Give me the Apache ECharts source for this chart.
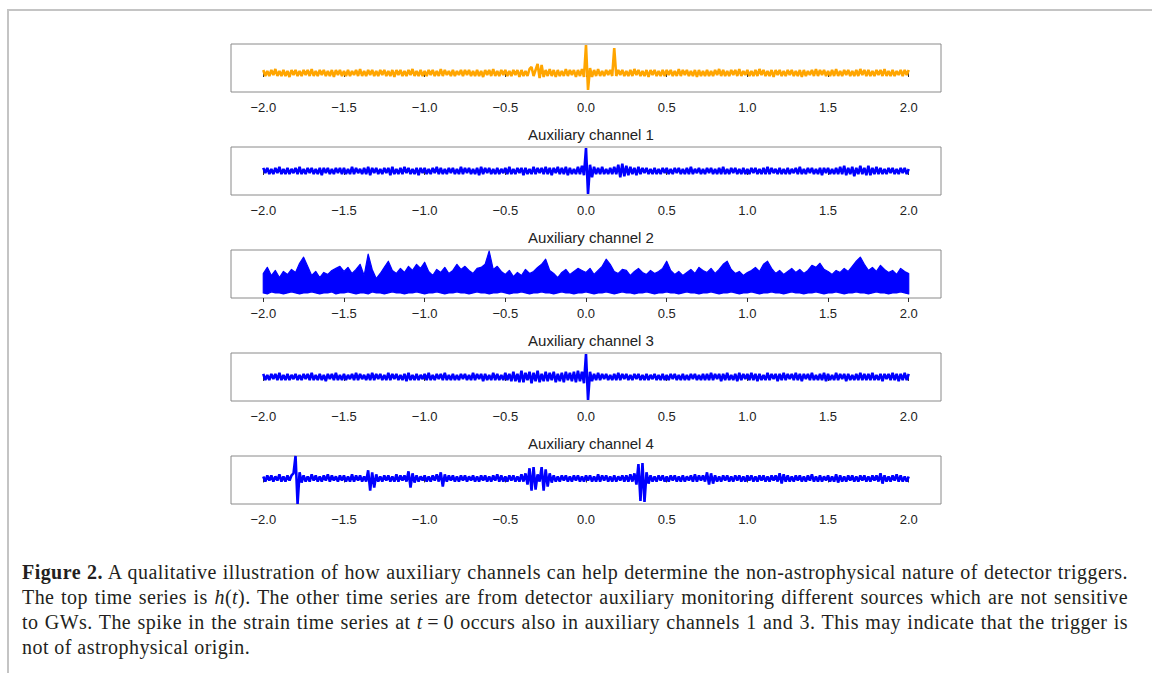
<!DOCTYPE html>
<html>
<head>
<meta charset="utf-8">
<title>Auxiliary channels</title>
<script src="https://cdn.jsdelivr.net/npm/echarts@6.0.0/dist/echarts.min.js"></script>
<style>
  html, body { margin: 0; padding: 0; background: #fff; }
  #page { position: relative; width: 1152px; height: 673px; overflow: hidden; }
  #frame { position: absolute; left: 7px; top: 9px; right: -4px; bottom: -4px;
           border-top: 2px solid #c4c4c4; border-left: 2px solid #c4c4c4; }
  #container { position: absolute; left: 0; top: 0; width: 1152px; height: 560px; }
  #caption { position: absolute; left: 22px; top: 560px; width: 1106px;
             font-family: 'Liberation Serif', serif; font-size: 20px; letter-spacing: 0.45px;
             line-height: 25px; color: #231f20; }
  #caption .j { text-align: justify; text-align-last: justify; white-space: nowrap; }
</style>
</head>
<body>
<div id="page">
  <div id="frame"></div>
  <div id="container"></div>
  <div id="caption">
    <div class="j"><b>Figure 2.</b> A qualitative illustration of how auxiliary channels can help determine the non-astrophysical nature of detector triggers.</div>
    <div class="j">The top time series is <i>h</i>(<i>t</i>). The other time series are from detector auxiliary monitoring different sources which are not sensitive</div>
    <div class="j">to GWs. The spike in the strain time series at <i>t</i>&thinsp;=&thinsp;0 occurs also in auxiliary channels 1 and 3. This may indicate that the trigger is</div>
    <div>not of astrophysical origin.</div>
  </div>
</div>
<script>
// fine time axis for the noisy channels: -2.0 .. 2.0 s every 0.0125 s
var fineStart = -2.0, fineStep = 0.0125, fineCount = 321;
// coarse time axis for the band of channel 2: every 0.025 s
var coarseStart = -2.0, coarseStep = 0.025, coarseCount = 161;
var tickValues = [-2.0, -1.5, -1.0, -0.5, 0.0, 0.5, 1.0, 1.5, 2.0];
var panelTitles = ['', 'Auxiliary channel 1', 'Auxiliary channel 2', 'Auxiliary channel 3', 'Auxiliary channel 4'];

// h(t) strain (orange)
var strain = [
  3,-3,2,-3,3,-2,4,-3,2,-3,3,-3,2,-4,3,-2,3,-3,2,-3,
  3,-2,3,-3,4,-3,2,-3,3,-2,3,-3,2,-3,3,-4,3,-2,3,-3,
  2,-3,3,-3,2,-2,3,-3,4,-3,2,-3,3,-2,3,-3,2,-3,3,-2,
  3,-3,2,-3,3,-4,3,-2,3,-3,2,-3,3,-2,4,-3,2,-3,3,-3,
  2,-3,3,-2,3,-3,2,-3,4,-3,3,-2,2,-3,3,-3,2,-2,3,-3,
  3,-2,3,-3,2,-3,3,-3,2,-4,3,-2,3,-3,4,-3,2,-3,3,-2,
  3,-3,2,-3,3,-2,3,-4,3,-3,2,-3,4,6,-3,3,9,-5,8,-4,
  3,-3,4,-3,3,-4,3,-3,2,-3,4,-3,3,-2,3,-4,3,-3,4,-4,
  28,-17,5,-4,3,-3,4,-3,2,-3,3,-2,3,-3,25,-3,3,-2,3,-3,
  2,-3,3,-3,4,-2,3,-3,2,-3,3,-4,3,-2,3,-3,2,-3,3,-3,
  3,-2,3,-3,2,-3,4,-3,3,-2,3,-3,2,-3,3,-4,3,-3,2,-3,
  3,-3,2,-3,3,-2,4,-3,3,-3,2,-3,3,-2,3,-3,4,-3,2,-2,
  3,-3,2,-3,3,-3,4,-2,3,-3,2,-3,3,-4,3,-2,3,-3,2,-3,
  3,-2,3,-3,2,-3,3,-4,3,-3,2,-2,3,-3,4,-3,3,-2,3,-3,
  2,-3,3,-3,4,-3,2,-3,3,-2,3,-3,2,-3,3,-3,4,-2,3,-3,
  3,-3,2,-3,3,-2,3,-3,4,-3,2,-3,3,-3,2,-2,3,-3,3,-2,
  3
];
// auxiliary channel 1
var aux1 = [
  3,-2,3,-3,2,-3,3,-2,4,-3,2,-3,3,-3,2,-2,3,-3,4,-3,
  2,-3,3,-2,3,-3,2,-3,3,-4,3,-2,3,-3,2,-3,3,-2,3,-3,
  3,-3,2,-3,4,-3,3,-2,2,-3,3,-3,4,-4,3,-2,3,-3,2,-3,
  3,-2,3,-4,4,-3,2,-3,3,-3,4,-2,3,-3,2,-3,3,-4,3,-2,
  3,-3,2,-3,3,-2,4,-3,3,-3,2,-3,3,-2,3,-3,2,-3,4,-3,
  3,-2,3,-3,2,-3,3,-4,4,-3,3,-2,3,-3,2,-3,3,-3,2,-2,
  3,-3,4,-3,2,-3,3,-2,3,-4,3,-3,2,-3,4,-3,3,-2,3,-3,
  4,-3,3,-4,3,-2,4,-3,3,-3,4,-4,3,-3,2,-3,4,-3,5,-4,
  22,-22,6,-6,4,-3,3,-3,4,-3,2,-3,3,-3,4,-3,6,-6,7,-5,
  5,-4,4,-3,3,-4,4,-3,3,-2,3,-3,2,-3,3,-3,2,-3,3,-2,
  3,-3,2,-3,3,-2,3,-3,2,-3,3,-3,4,-3,2,-2,3,-3,2,-3,
  3,-2,3,-3,2,-3,3,-3,4,-3,2,-3,3,-2,3,-3,2,-3,3,-3,
  2,-3,3,-2,3,-3,2,-3,3,-3,4,-3,3,-2,2,-3,3,-3,2,-3,
  3,-3,2,-2,3,-3,4,-3,2,-3,3,-2,3,-3,2,-3,3,-4,3,-2,
  3,-3,2,-3,3,-3,4,-3,5,-4,3,-3,4,-5,3,-3,5,-3,3,-4,
  5,-4,3,-3,4,-3,3,-3,2,-3,3,-2,3,-3,2,-3,3,-2,3,-3,
  2
];
// auxiliary channel 2: lower and upper edge of the dense band
var aux2Low = [
  5,4,6,5,5,4,5,6,5,4,5,5,6,5,4,5,5,6,4,5,
  5,6,5,4,5,5,4,6,5,5,4,5,6,5,5,4,5,5,6,5,
  4,5,5,6,5,4,5,5,6,5,5,4,5,6,5,5,4,5,5,6,
  5,4,5,5,6,5,4,5,5,6,5,5,4,5,6,5,5,4,5,5,
  6,5,4,5,5,6,5,4,5,6,5,5,4,5,5,6,5,4,5,5,
  6,5,5,4,5,6,5,5,4,5,5,6,5,4,5,5,6,5,4,5,
  5,6,5,4,5,5,6,5,5,4,5,6,5,5,4,5,5,6,5,4,
  5,5,6,5,4,5,5,6,5,5,4,5,6,5,5,4,5,5,6,5,4
];
var aux2High = [
  24,30,22,27,20,26,23,28,25,34,40,31,22,26,20,25,23,27,29,31,
  26,30,24,28,33,22,43,28,19,24,30,36,27,24,29,25,31,27,33,29,
  35,26,22,28,25,30,24,27,33,28,31,27,24,29,30,33,46,28,31,26,
  23,27,21,25,22,28,24,26,30,33,38,27,24,20,25,28,23,26,29,27,
  25,29,23,27,31,38,33,26,24,28,27,22,26,29,25,23,27,24,26,29,
  36,27,23,26,22,25,28,24,30,27,25,29,24,28,33,36,28,24,26,22,
  25,27,30,26,33,36,29,24,27,23,26,29,25,28,24,27,32,30,34,28,
  26,23,27,25,29,26,31,36,40,33,27,30,26,32,28,25,27,23,29,26,24
];
// auxiliary channel 3
var aux3 = [
  3,-3,2,-3,3,-2,3,-3,4,-3,2,-3,3,-3,2,-2,3,-3,2,-3,
  3,-2,3,-3,4,-3,2,-3,3,-3,2,-4,3,-2,3,-3,4,-3,2,-3,
  3,-3,2,-2,3,-3,4,-3,3,-2,2,-3,3,-3,4,-3,3,-2,3,-3,
  2,-3,4,-3,3,-2,3,-3,2,-3,3,-4,4,-3,2,-3,3,-3,2,-2,
  3,-3,4,-3,2,-3,3,-2,3,-3,4,-3,2,-3,3,-3,2,-3,3,-2,
  3,-3,2,-3,4,-3,3,-2,3,-4,3,-3,2,-3,4,-3,3,-3,2,-3,
  4,-3,3,-4,5,-4,3,-5,6,-5,4,-3,5,-6,4,-4,6,-5,3,-4,
  5,-4,4,-3,5,-5,3,-4,4,-5,5,-3,4,-4,5,-5,6,-4,5,-6,
  22,-22,5,-4,3,-3,4,-3,3,-2,3,-3,2,-3,3,-3,4,-3,3,-2,
  3,-3,2,-3,3,-2,3,-3,2,-3,3,-3,2,-2,3,-3,2,-3,3,-3,
  2,-3,3,-2,3,-3,2,-3,3,-3,2,-3,3,-2,3,-3,2,-3,3,-3,
  3,-3,4,-3,3,-2,3,-4,3,-3,4,-3,2,-3,3,-4,4,-3,3,-2,
  3,-3,4,-3,3,-4,3,-3,2,-3,4,-3,3,-2,3,-4,3,-3,4,-3,
  3,-2,3,-3,4,-3,3,-4,3,-2,3,-3,4,-3,2,-3,3,-3,4,-4,
  3,-3,2,-3,4,-3,3,-2,3,-4,3,-3,2,-3,3,-3,4,-3,3,-3,
  3,-3,4,-3,2,-3,3,-4,3,-2,3,-3,4,-3,3,-4,3,-3,4,-3,
  3
];
// auxiliary channel 4
var aux4 = [
  2,-3,3,-2,3,-3,2,-2,4,-3,2,-3,3,-2,3,5,22,-25,6,-4,
  3,-3,2,-3,4,-2,3,-3,2,-3,3,-2,4,-3,3,-2,2,-3,3,-2,
  3,-3,2,-3,4,-3,3,-2,3,-3,2,-3,8,-12,6,-9,4,-3,2,-3,
  3,-2,3,-3,2,-3,4,-3,3,-2,3,-3,7,-9,5,-4,3,-3,2,-2,
  3,-3,2,-3,3,-2,4,-3,6,-8,4,-3,3,-2,3,-3,2,-3,3,-2,
  3,-3,2,-2,3,-3,2,-3,3,-2,3,-3,2,-3,3,-2,4,-3,3,-3,
  2,-3,3,-2,3,-3,2,-3,4,-3,5,-6,10,-12,11,-11,4,-3,11,-12,
  9,-8,5,-4,3,-3,2,-3,3,-2,3,-3,2,-3,3,-2,3,-3,2,-3,
  3,-2,3,-3,2,-3,4,-3,3,-2,3,-3,2,-3,3,-3,2,-2,3,-3,
  3,-3,4,-3,5,-6,14,-22,15,-23,6,-5,3,-3,2,-3,3,-2,3,-3,
  2,-3,3,-2,3,-3,2,-3,3,-3,2,-2,3,-3,4,-3,3,-2,3,-3,
  6,-6,5,-5,3,-3,2,-3,3,-2,3,-3,2,-3,3,-2,3,-3,2,-3,
  3,-2,3,-3,2,-3,3,-2,3,-3,2,-3,3,-2,3,-3,5,-5,4,-3,
  3,-3,2,-3,3,-2,3,-3,2,-3,3,-2,4,-3,2,-3,3,-3,2,-2,
  3,-3,2,-3,4,-4,3,-3,2,-3,3,-2,3,-3,2,-3,3,-2,3,-3,
  2,-3,3,-2,3,-3,5,-5,3,-3,2,-3,3,-2,4,-3,3,-3,2,-3,
  2
];

var yLimits = [[-19, 29], [-23, 23], [0, 47], [-23, 23], [-25, 22]];
var panelTops = [44, 147, 250, 353, 456];

[strain, aux1, aux3, aux4].forEach(function (a, k) {
  if (a.length !== fineCount) throw new Error('fine array ' + k + ' has ' + a.length + ' values');
});
[aux2Low, aux2High].forEach(function (a, k) {
  if (a.length !== coarseCount) throw new Error('coarse array ' + k + ' has ' + a.length + ' values');
});

function makeTimes(start, step, n) {
  var out = [];
  for (var i = 0; i < n; i++) out.push(+(start + i * step).toFixed(4));
  return out;
}
var fineTimes = makeTimes(fineStart, fineStep, fineCount);
var coarseTimes = makeTimes(coarseStart, coarseStep, coarseCount);
function pairs(vals) { return vals.map(function (v, i) { return [fineTimes[i], v]; }); }

function fmtTick(v) {
  var s = Math.abs(v).toFixed(1);
  return v < 0 ? '\u2212' + s : s;
}

var grids = [], xAxes = [], yAxes = [], titles = [];
panelTops.forEach(function (top, p) {
  grids.push({ left: 231, width: 710, top: top, height: 48, show: true,
               borderColor: '#8a8a8a', borderWidth: 1, backgroundColor: 'transparent' });
  xAxes.push({
    type: 'value', gridIndex: p, min: -2.2, max: 2.2,
    axisLine: { show: false },
    splitLine: { show: false },
    axisTick: { show: true, customValues: tickValues, length: 4, lineStyle: { color: '#333', width: 1 } },
    axisLabel: { customValues: tickValues, formatter: fmtTick, margin: 9,
                 fontFamily: 'Liberation Sans', fontSize: 13, color: '#222' }
  });
  yAxes.push({ type: 'value', gridIndex: p, min: yLimits[p][0], max: yLimits[p][1], show: false });
  if (panelTitles[p]) {
    titles.push({ text: panelTitles[p], left: 586, top: top - 25, textAlign: 'center',
                  textStyle: { fontFamily: 'Liberation Sans', fontSize: 15, fontWeight: 'normal', color: '#222' } });
  }
});

function line(p, vals, color) {
  return { type: 'line', xAxisIndex: p, yAxisIndex: p, data: pairs(vals), symbol: 'none',
           lineStyle: { color: color, width: 2.6 }, silent: true };
}

// channel 2 is drawn as a filled band between its lower and upper edge
var bandSeries = {
  type: 'custom', xAxisIndex: 2, yAxisIndex: 2, silent: true,
  data: [[coarseTimes[0], aux2High[0]]],
  renderItem: function (params, api) {
    var pts = [];
    for (var i = 0; i < coarseCount; i++) pts.push(api.coord([coarseTimes[i], aux2High[i]]));
    for (var k = coarseCount - 1; k >= 0; k--) pts.push(api.coord([coarseTimes[k], aux2Low[k]]));
    return { type: 'polygon', shape: { points: pts },
             style: { fill: '#0000ff', stroke: '#0000ff', lineWidth: 1.2, lineJoin: 'round' } };
  }
};

var series = [
  line(0, strain, '#ffa500'),
  line(1, aux1, '#0000ff'),
  bandSeries,
  line(3, aux3, '#0000ff'),
  line(4, aux4, '#0000ff')
];

var chart = echarts.init(document.getElementById('container'), null, { renderer: 'svg' });
chart.setOption({
  animation: false,
  title: titles,
  grid: grids,
  xAxis: xAxes,
  yAxis: yAxes,
  series: series
});
</script>
</body>
</html>
